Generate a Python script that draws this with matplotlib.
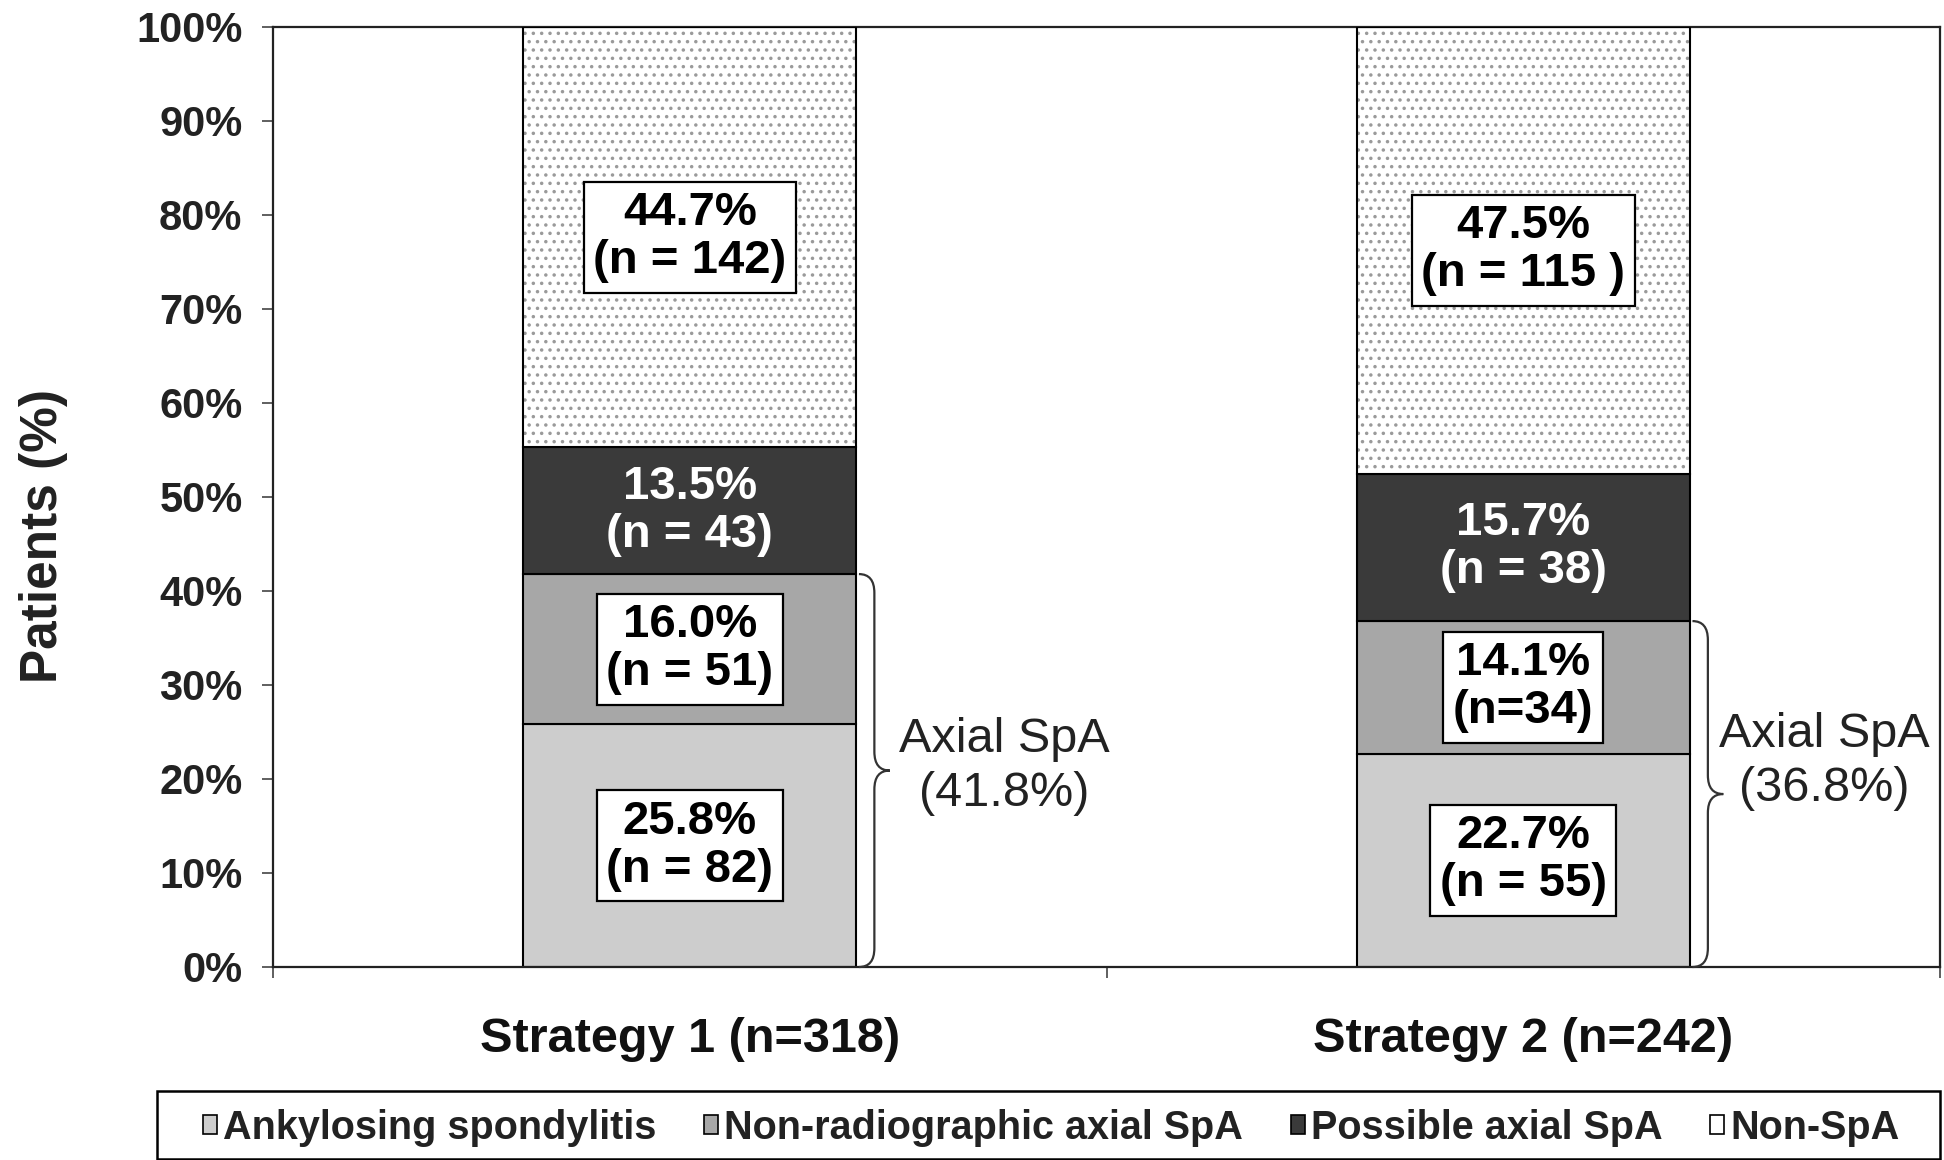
import matplotlib
matplotlib.use('Agg')
import matplotlib.pyplot as plt
from matplotlib.path import Path
from matplotlib.patches import PathPatch, Patch, Rectangle

plt.rcParams['font.family'] = ['Liberation Sans', 'DejaVu Sans']
plt.rcParams['hatch.linewidth'] = 1.3

# ---------------- data ----------------
categories = ['Strategy 1 (n=318)', 'Strategy 2 (n=242)']
series_names = ['Ankylosing spondylitis', 'Non-radiographic axial SpA',
                'Possible axial SpA', 'Non-SpA']
ankylosing = [25.8, 22.7]
nonradiographic = [16.0, 14.1]
possible = [13.5, 15.7]
non_spa = [44.7, 47.5]
as_labels = ['25.8%\n(n = 82)', '22.7%\n(n = 55)']
nr_labels = ['16.0%\n(n = 51)', '14.1%\n(n=34)']
pos_labels = ['13.5%\n(n = 43)', '15.7%\n(n = 38)']
non_labels = ['44.7%\n(n = 142)', '47.5%\n(n = 115 )']
axial_totals = [41.8, 36.8]
axial_labels = ['Axial SpA\n(41.8%)', 'Axial SpA\n(36.8%)']
yticks = [0, 10, 20, 30, 40, 50, 60, 70, 80, 90, 100]
ytick_labels = ['0%', '10%', '20%', '30%', '40%', '50%', '60%', '70%', '80%', '90%', '100%']

# layout / style
colors = ['#cdcdcd', '#a7a7a7', '#3a3a3a', '#ffffff']
brace_label_dx = [0.137, 0.121]   # label centre right of brace tip (axis units)
brace_label_dy = [0.4, 3.5]       # label centre above brace tip (percent units)

W, H = 1944, 1160
fig = plt.figure(figsize=(W / 100, H / 100), dpi=100)
ax = fig.add_axes([273 / W, 1 - 967 / H, (1940 - 273) / W, (967 - 27) / H])

x = list(range(len(categories)))
bw = 0.4

ax.bar(x, ankylosing, bw, color=colors[0], edgecolor='black', linewidth=1.5, zorder=2)
bottom1 = [a for a in ankylosing]
ax.bar(x, nonradiographic, bw, bottom=bottom1, color=colors[1], edgecolor='black', linewidth=1.5, zorder=2)
bottom2 = [a + b for a, b in zip(ankylosing, nonradiographic)]
ax.bar(x, possible, bw, bottom=bottom2, color=colors[2], edgecolor='black', linewidth=1.5, zorder=2)
bottom3 = [a + b + c for a, b, c in zip(ankylosing, nonradiographic, possible)]
# dotted fill (hatch drawn in grey), then black outline on top
ax.bar(x, non_spa, bw, bottom=bottom3, color='white', edgecolor='#9a9a9a', hatch='..', linewidth=0, zorder=2)
ax.bar(x, non_spa, bw, bottom=bottom3, fill=False, edgecolor='black', linewidth=1.5, zorder=3)

box = dict(boxstyle='square,pad=0.2', fc='white', ec='black', lw=1.6)
lab_fs = 34
for i in x:
    ax.text(i, ankylosing[i] / 2, as_labels[i], ha='center', va='center', fontsize=lab_fs,
            fontweight='bold', bbox=box, linespacing=1.12, zorder=5)
    ax.text(i, bottom1[i] + nonradiographic[i] / 2, nr_labels[i], ha='center', va='center',
            fontsize=lab_fs, fontweight='bold', bbox=box, linespacing=1.12, zorder=5)
    ax.text(i, bottom2[i] + possible[i] / 2, pos_labels[i], ha='center', va='center',
            fontsize=lab_fs, fontweight='bold', color='white', linespacing=1.12, zorder=5)
    ax.text(i, bottom3[i] + non_spa[i] / 2, non_labels[i], ha='center', va='center',
            fontsize=lab_fs, fontweight='bold', bbox=box, linespacing=1.12, zorder=5)


def brace(ax, xl, y0, y1, w, r=2.0):
    ym = (y0 + y1) / 2
    xm = xl + w / 2
    verts = [(xl, y0), (xm, y0), (xm, y0 + r), (xm, ym - r), (xm, ym), (xl + w, ym),
             (xm, ym), (xm, ym + r), (xm, y1 - r), (xm, y1), (xl, y1)]
    codes = [Path.MOVETO, Path.CURVE3, Path.CURVE3, Path.LINETO, Path.CURVE3, Path.CURVE3,
             Path.CURVE3, Path.CURVE3, Path.LINETO, Path.CURVE3, Path.CURVE3]
    ax.add_patch(PathPatch(Path(verts, codes), fill=False, ec='#333333', lw=1.6,
                           clip_on=False, zorder=4))


bw_brace = 0.037
for i in x:
    xl = i + bw / 2 + 0.003
    brace(ax, xl, 0, axial_totals[i], bw_brace)
    tip = xl + bw_brace
    ax.text(tip + brace_label_dx[i], axial_totals[i] / 2 + brace_label_dy[i], axial_labels[i],
            ha='center', va='center', multialignment='center', fontsize=35, color='#222222',
            linespacing=1.25, zorder=5)

ax.set_xlim(-0.5, 1.5)
ax.set_ylim(0, 100)
ax.set_yticks(yticks)
ax.set_yticklabels(ytick_labels, fontsize=30, fontweight='bold', color='#222222')
ax.set_xticks(x)
ax.set_xticklabels(categories, fontsize=35, fontweight='bold', color='#111111')
ax.set_xticks([-0.5, 0.5, 1.5], minor=True)
ax.tick_params(axis='x', which='major', length=0, pad=36)
ax.tick_params(axis='x', which='minor', length=8, width=1.2, direction='out', color='#444444')
ax.tick_params(axis='y', length=8, width=1.2, direction='out', pad=14, color='#444444')
for s in ax.spines.values():
    s.set_linewidth(1.6)
    s.set_color('#222222')

fig.text(43 / W, 1 - 536 / H, 'Patients (%)', rotation=90, ha='center', va='center',
         fontsize=37, fontweight='bold', color='#222222')

# legend frame drawn as a figure rectangle, entries placed inside it
fig.patches.append(Rectangle((157 / W, 1 - 1159 / H), (1940 - 157) / W, (1159 - 1091) / H,
                             transform=fig.transFigure, fill=False, ec='black', lw=1.8))
handles = [Patch(facecolor=c, edgecolor='black', linewidth=1.2) for c in colors]
leg = fig.legend(handles, series_names, loc='center left', ncol=4,
                 bbox_to_anchor=(203 / W, 1 - 1128 / H),
                 prop={'size': 28.5, 'weight': 'bold'}, handlelength=0.36, handleheight=0.36,
                 handletextpad=0.15, borderpad=0, columnspacing=1.2, frameon=False,
                 borderaxespad=0)
for t in leg.get_texts():
    t.set_color('#222222')

fig.savefig('out.png', dpi=100)
